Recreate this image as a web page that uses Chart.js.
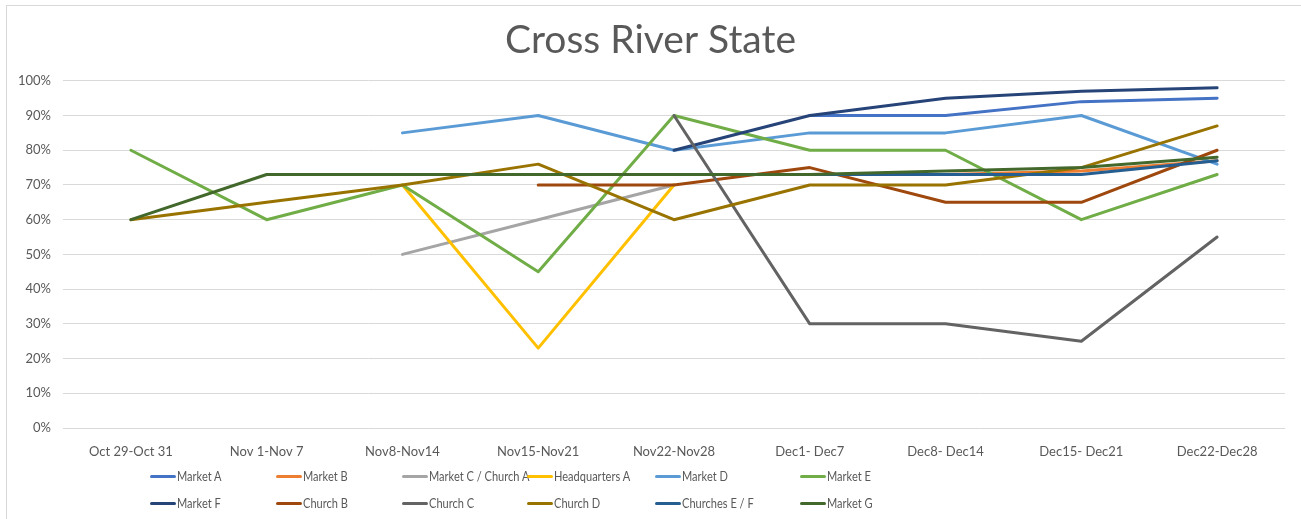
<!DOCTYPE html>
<html>
<head>
<meta charset="utf-8">
<script src="https://cdn.jsdelivr.net/npm/chart.js@4"></script>
<style>
  html, body { margin: 0; padding: 0; background: #fff; }
  body { width: 1301px; height: 519px; position: relative; overflow: hidden; font-family: Lato, "Open Sans", sans-serif; }
  #frame { position: absolute; left: 6px; top: 5px; width: 1400px; height: 600px; border: 1px solid #d9d9d9; box-sizing: border-box; }
  #wrap { position: absolute; left: 0; top: 0; width: 1301px; height: 519px; }
  #legend { position: absolute; left: 0; top: 0; width: 1301px; height: 519px; pointer-events: none; }
  .item { position: absolute; display: flex; align-items: center; font-size: 13px; color: #595959; white-space: nowrap; }
  .item span.txt { display: inline-block; transform: scaleX(0.85); transform-origin: left center; }
  .swatch { width: 26px; height: 3px; border-radius: 2px; margin-right: 1px; }
</style>
</head>
<body>
<div id="frame"></div>
<div id="wrap"><canvas id="chart" width="1301" height="519"></canvas></div>
<div id="legend"></div>
<script>
const weeks = ["Oct 29-Oct 31", "Nov 1-Nov 7", "Nov8-Nov14", "Nov15-Nov21", "Nov22-Nov28",
  "Dec1- Dec7", "Dec8- Dec14", "Dec15- Dec21", "Dec22-Dec28"]

const yTicks = [0, 10, 20, 30, 40, 50, 60, 70, 80, 90, 100]

const marketA = [null, null, null, null, null, 90, 90, 94, 95]
const marketB = [null, null, null, null, null, 73, 73, 74, 77]
const marketC = [null, null, 50, 60, 70, null, null, null, null]
const hqA = [null, null, 70, 23, 70, null, null, null, null]
const marketD = [null, null, 85, 90, 80, 85, 85, 90, 76]
const marketE = [80, 60, 70, 45, 90, 80, 80, 60, 73]
const marketF = [null, null, null, null, 80, 90, 95, 97, 98]
const churchB = [null, null, null, 70, 70, 75, 65, 65, 80]
const churchC = [null, null, null, null, 90, 30, 30, 25, 55]
const churchD = [60, 65, 70, 76, 60, 70, 70, 75, 87]
const churchesEF = [null, null, null, null, null, 73, 73, 73, 77]
const marketG = [60, 73, 73, 73, 73, 73, 74, 75, 78]

const series = [
  ["Market A", marketA, "#4472C4"],
  ["Market B", marketB, "#ED7D31"],
  ["Market C / Church A", marketC, "#A5A5A5"],
  ["Headquarters A", hqA, "#FFC000"],
  ["Market D", marketD, "#5B9BD5"],
  ["Market E", marketE, "#70AD47"],
  ["Market F", marketF, "#264478"],
  ["Church B", churchB, "#9E480E"],
  ["Church C", churchC, "#636363"],
  ["Church D", churchD, "#997300"],
  ["Churches E / F", churchesEF, "#255E91"],
  ["Market G", marketG, "#43682B"]
]

const textColor = "#595959"

const datasets = series.map(([label, data, color], i) => ({
  label,
  data,
  borderColor: color,
  backgroundColor: color,
  borderWidth: 3,
  borderCapStyle: "round",
  borderJoinStyle: "round",
  pointRadius: 0,
  spanGaps: false,
  tension: 0,
  // excel paints later series on top
  order: series.length - i
}))

new Chart(document.getElementById("chart"), {
  type: "line",
  data: { labels: weeks, datasets },
  options: {
    responsive: false,
    animation: false,
    layout: { padding: { left: 0, right: 0, top: 0, bottom: 63 } },
    plugins: {
      legend: { display: false },
      tooltip: { enabled: false },
      title: {
        display: true,
        text: "Cross River State",
        color: textColor,
        font: { family: "Lato", size: 39, weight: "normal", lineHeight: 1.2 },
        padding: { top: 17, bottom: 17 }
      }
    },
    scales: {
      x: {
        offset: true,
        grid: { display: false },
        border: { display: false },
        ticks: { color: textColor, font: { family: "Lato", size: 13 }, maxRotation: 0, padding: 8 },
        afterFit: (s) => { s.height = 28 }
      },
      y: {
        min: 0,
        max: 100,
        afterBuildTicks: (s) => { s.ticks = yTicks.map(v => ({ value: v })) },
        grid: { color: "#d9d9d9", lineWidth: 1, drawTicks: false },
        border: { display: false },
        ticks: {
          color: textColor,
          font: { family: "Lato", size: 13 },
          padding: 12,
          callback: (v) => v + "%"
        },
        afterFit: (s) => { s.width = 63 }
      },
      // empty strip on the right so the title stays centred on the page
      yRight: {
        position: "right",
        display: true,
        grid: { display: false },
        border: { display: false },
        ticks: { display: false },
        afterFit: (s) => { s.width = 16 }
      }
    }
  }
})

// legend laid out in excel's grid
const legendCols = [150, 276, 402, 527, 655, 800]
const legendRows = [476, 503]
const legend = document.getElementById("legend")
series.forEach(([label, , color], i) => {
  const el = document.createElement("div")
  el.className = "item"
  el.style.left = legendCols[i % 6] + "px"
  el.style.top = (legendRows[Math.floor(i / 6)] - 9) + "px"
  el.style.height = "18px"
  el.innerHTML = '<span class="swatch" style="background:' + color + '"></span><span class="txt">' + label + '</span>'
  legend.appendChild(el)
})
</script>
</body>
</html>
